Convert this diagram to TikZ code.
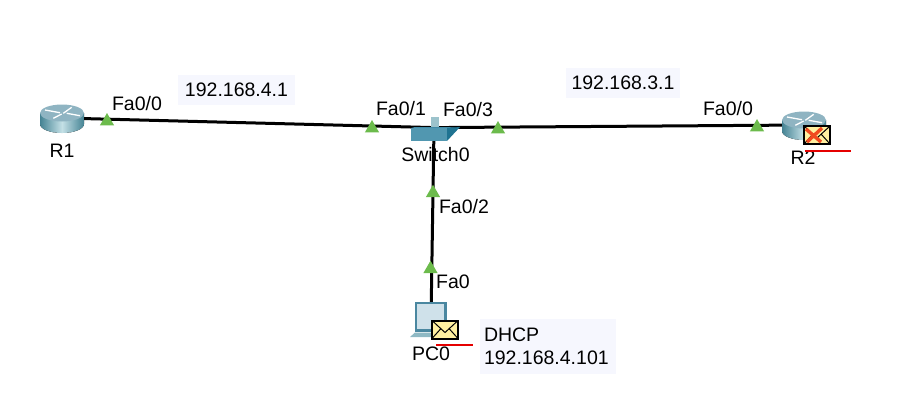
\documentclass[tikz,border=0pt]{standalone}
\usepackage{fontspec}
\setmainfont{Liberation Sans}
\usetikzlibrary{shapes.geometric, positioning, backgrounds}
\definecolor{linkgreen}{HTML}{6CBB4C}
\definecolor{notefill}{HTML}{F6F7FE}
\definecolor{mailyellow}{HTML}{FFF0A0}
\definecolor{routerteal}{HTML}{3F7F90}
\definecolor{routerpale}{HTML}{C4E0E6}
\definecolor{routertop}{HTML}{8FB4C2}
\definecolor{switchfront}{HTML}{5197B0}
\definecolor{switchside}{HTML}{1F7391}
\definecolor{switchtop}{HTML}{3F8AA6}
\definecolor{pcframe}{HTML}{4A87A0}
\definecolor{pcscreen}{HTML}{CFE1EA}
\definecolor{faultred}{HTML}{F04A20}
\tikzset{
  txt/.style={font=\fontsize{19.5}{23}\selectfont, inner sep=0pt},
  portlabel/.style={txt, fill=white, inner xsep=2pt, inner ysep=4pt},
  notebox/.style={txt, fill=notefill, align=left},
  linkline/.style={line width=3pt, black},
  porttip/.style={
    regular polygon, regular polygon sides=3, fill=linkgreen,
    minimum size=16.5pt, inner sep=0pt
  },
  routerbox/.style={
    minimum width=46pt, minimum height=31pt, inner sep=0pt,
    path picture={
      \fill[left color=routerteal, right color=routerteal, middle color=routerpale]
        (-22,-5) -- (-22,6) arc[start angle=180, end angle=360, x radius=22, y radius=-9]
        -- (22,-5) -- cycle;
      \fill[routertop] (0,-5) ellipse[x radius=22, y radius=8.5];
      \draw[white, line width=1.3pt] (-17,-8) -- (-2,-5.3) (1.3,-4.7) -- (9.7,-10.7)
        (-8.7,0.3) -- (-0.3,-4) (4.7,-4.7) -- (18,-2.3);
    }
  },
  switchbox/.style={
    minimum width=52pt, minimum height=28pt, inner sep=0pt,
    path picture={
      \fill[routerpale!70!routerteal] (-3,-11) rectangle (5,0);
      \fill[switchtop] (-23,0.4) -- (-19,-0.6) -- (26,-0.6) -- (13,0.4) -- cycle;
      \fill[switchside] (13,0.4) -- (26,-0.6) -- (13,13.4) -- cycle;
      \fill[switchfront] (-23,0.4) rectangle (13,13.4);
    }
  },
  pcbox/.style={
    minimum width=46pt, minimum height=42pt, inner sep=0pt,
    path picture={
      \fill[pcframe] (-16,-18) rectangle (16,12);
      \fill[pcscreen] (-14,-16) rectangle (13,9);
      \fill[routerpale!60!routerteal] (-21,17) -- (-16,12.5) -- (6,12.5) -- (6,17) -- cycle;
    }
  },
  mailbox/.style={
    draw=black, line width=2pt, fill=mailyellow, inner sep=0pt,
    minimum width=26pt, minimum height=18pt,
    path picture={
      \draw[black, line width=1pt] (-13,-9) -- (0,3) -- (13,-9);
      \draw[black, line width=1pt] (-13,9) -- (-4,-1) (13,9) -- (4,-1);
    }
  },
  faultline/.style={red!90!black, line width=1.4pt}
}
\begin{document}
\begin{tikzpicture}[x=1pt, y=-1pt]
    \useasboundingbox (0,0) rectangle (923,402);

    % Equipos
    \node[routerbox] (r1) at (62,118) {};
    \node[routerbox] (r2) at (804,125) {};
    \node[switchbox] (sw0) at (434,127.6) {};
    \node[pcbox] (pc0) at (431,320) {};

    % Enlaces
    \begin{scope}[on background layer]
      \foreach \a/\b in {r1/sw0, sw0/r2, sw0/pc0}{%
        \draw[linkline] (\a.center) -- (\b.center);}
    \end{scope}

    % Nombres
    \node[txt, below=10pt of r1] (r1name) {R1};
    \node[txt, below=10pt of r2, xshift=-1pt] (r2name) {R2};
    \node[txt] (swname) at (435.5,155) {Switch0};
    \node[txt] (pcname) at (431,354) {PC0};

    % Puertos
    \node[portlabel] (p1) at (137,104) {Fa0/0};
    \node[portlabel] (p2) at (401,109) {Fa0/1};
    \node[portlabel] (p3) at (468,110) {Fa0/3};
    \node[portlabel] (p4) at (464,207) {Fa0/2};
    \node[portlabel] (p5) at (453,282) {Fa0};
    \node[portlabel] (p6) at (728,109) {Fa0/0};

    \node[porttip] (t1) at (107,121.3) {};
    \node[porttip] (t2) at (372,128.3) {};
    \node[porttip] (t3) at (498,129.3) {};
    \node[porttip] (t4) at (433,193) {};
    \node[porttip] (t5) at (430.5,269) {};
    \node[porttip] (t6) at (757,127.3) {};

    % Notas
    \node[notebox, minimum width=117pt, minimum height=30pt, align=center] (n1)
      at (236.5,90) {192.168.4.1};
    \node[notebox, minimum width=114pt, minimum height=30pt, align=center] (n2)
      at (623,83) {192.168.3.1};
    \node[notebox, minimum width=136pt, minimum height=55pt, text width=128pt] (n3)
      at (548,346.5) {DHCP\\192.168.4.101};

    % Mensajes
    \node[mailbox] (m1) at (445,329.5) {};
    \coordinate (m1a) at (436,345);
    \coordinate (m1b) at (473,345);
    \draw[faultline] (m1a) -- (m1b);

    \node[mailbox] (m2) at (817,135) {};
    \coordinate (m2a) at (805,151);
    \coordinate (m2b) at (851,151);
    \draw[faultline] (m2a) -- (m2b);
    \draw[faultred, line width=3.4pt] (806,129) -- (821,142) (822,128) -- (807,142);
\end{tikzpicture}
\end{document}
